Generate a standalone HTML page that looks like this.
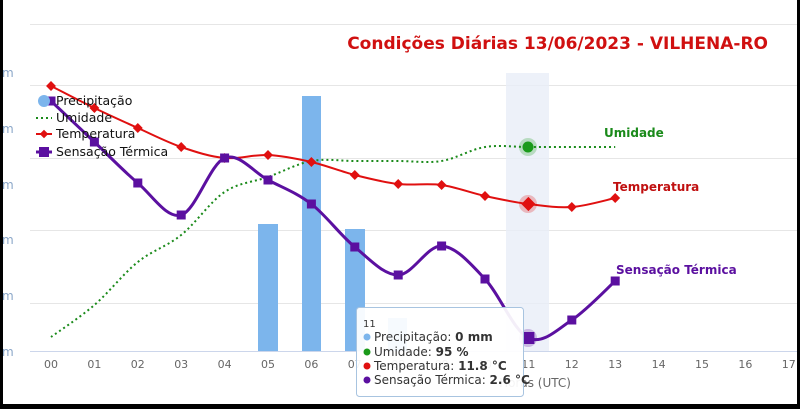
<!DOCTYPE html>
<html><head><meta charset="utf-8"><style>
html,body{margin:0;padding:0;background:#fff}
body{width:800px;height:409px;overflow:hidden;position:relative;font-family:"DejaVu Sans","Liberation Sans",sans-serif}
</style></head><body>
<svg id="s" width="800" height="409" xmlns="http://www.w3.org/2000/svg" style="position:absolute;left:0;top:0">
<rect x="0" y="0" width="800" height="409" fill="#fff"/>
<g stroke="#e6e6e6" stroke-width="1">
<line x1="30" x2="797" y1="24.5" y2="24.5"/>
<line x1="30" x2="797" y1="85.5" y2="85.5"/>
<line x1="30" x2="797" y1="158.5" y2="158.5"/>
<line x1="30" x2="797" y1="230.5" y2="230.5"/>
<line x1="30" x2="797" y1="303.5" y2="303.5"/>
<line x1="30" x2="797" y1="351.5" y2="351.5" stroke="#ccd6eb"/>
</g>
<rect x="506" y="73" width="43" height="278" fill="#e9eef7" opacity="0.8"/>
<g fill="#7cb5ec">
<rect x="258" y="224" width="20" height="127"/>
<rect x="302" y="96" width="19" height="255"/>
<rect x="345" y="229" width="20" height="122"/>
<rect x="388" y="318" width="19" height="33"/>
</g>
<g font-size="12" fill="#8aa6c8">
<text x="2" y="77">m</text><text x="2" y="133">m</text><text x="2" y="189">m</text><text x="2" y="244">m</text><text x="2" y="300">m</text><text x="2" y="356">m</text>
</g>
<g id="xl" font-size="11" fill="#666" text-anchor="middle"></g>
<text x="535" y="387" font-size="12" fill="#666" text-anchor="middle">Horas (UTC)</text>
<path id="hum" fill="none" stroke="#1a8a1a" stroke-width="2" stroke-dasharray="2,3"/>
<path id="tmp" fill="none" stroke="#e01010" stroke-width="2"/>
<path id="sen" fill="none" stroke="#5b10a0" stroke-width="3"/>
<g id="mk"></g>
<circle cx="528" cy="147" r="9" fill="#1a9a1a" opacity="0.25"/>
<circle cx="528" cy="147" r="5.5" fill="#1a9a1a"/>
<circle cx="528" cy="204" r="9" fill="#e01010" opacity="0.25"/>
<circle cx="528" cy="338" r="9" fill="#5b10a0" opacity="0.25"/>
<text x="604" y="137" font-size="12" font-weight="bold" fill="#1a8a1a">Umidade</text>
<text x="613" y="191" font-size="12" font-weight="bold" fill="#c01010">Temperatura</text>
<text x="616" y="274" font-size="12" font-weight="bold" fill="#5b10a0">Sensação Térmica</text>
<text x="768" y="49" font-size="17" font-weight="bold" fill="#d01010" text-anchor="end">Condições Diárias 13/06/2023 - VILHENA-RO</text>
<g font-size="12.5" fill="#111">
<circle cx="44" cy="101" r="6" fill="#7cb5ec"/>
<text x="56" y="105">Precipitação</text>
<line x1="36" x2="52" y1="118" y2="118" stroke="#1a8a1a" stroke-width="2" stroke-dasharray="2,3"/>
<text x="56" y="122">Umidade</text>
<line x1="36" x2="52" y1="134" y2="134" stroke="#e01010" stroke-width="2"/>
<rect x="41" y="131" width="6" height="6" fill="#e01010" transform="rotate(45 44 134)"/>
<text x="56" y="138">Temperatura</text>
<line x1="36" x2="52" y1="152" y2="152" stroke="#5b10a0" stroke-width="3"/>
<rect x="39" y="147" width="10" height="10" fill="#5b10a0"/>
<text x="56" y="156">Sensação Térmica</text>
</g>
<rect x="356.5" y="307.5" width="167" height="89" rx="3" fill="#fff" fill-opacity="0.93" stroke="#a8c4e0"/>
<g font-size="12" fill="#333">
<text x="363" y="327" font-size="10">11</text>
<circle cx="367" cy="337" r="3.5" fill="#7cb5ec"/><text x="374" y="341">Precipitação: <tspan font-weight="bold">0 mm</tspan></text>
<circle cx="367" cy="352" r="3.5" fill="#1a9a1a"/><text x="374" y="356">Umidade: <tspan font-weight="bold">95 %</tspan></text>
<circle cx="367" cy="366" r="3.5" fill="#e01010"/><text x="374" y="370">Temperatura: <tspan font-weight="bold">11.8 °C</tspan></text>
<circle cx="367" cy="380" r="3.5" fill="#5b10a0"/><text x="374" y="384">Sensação Térmica: <tspan font-weight="bold">2.6 °C</tspan></text>
</g>
<rect x="0" y="0" width="3" height="409" fill="#000"/>
<rect x="797" y="0" width="3" height="409" fill="#000"/>
<rect x="0" y="404" width="800" height="5" fill="#000"/>
</svg>
<script>
var X=function(i){return 51+i*43.4};
var xl=document.getElementById('xl'),ns='http://www.w3.org/2000/svg';
for(var i=0;i<=17;i++){var t=document.createElementNS(ns,'text');t.setAttribute('x',X(i));t.setAttribute('y',368);t.textContent=(i<10?'0':'')+i;xl.appendChild(t);}
function path(p){var d='M'+p[0][0]+','+p[0][1];for(var i=0;i<p.length-1;i++){var p0=p[i-1]||p[i],p1=p[i],p2=p[i+1],p3=p[i+2]||p2;var k=6;d+=' C'+(p1[0]+(p2[0]-p0[0])/k)+','+(p1[1]+(p2[1]-p0[1])/k)+' '+(p2[0]-(p3[0]-p1[0])/k)+','+(p2[1]-(p3[1]-p1[1])/k)+' '+p2[0]+','+p2[1];}return d;}
var T=[86,108,128,147,158,155,162,175,184,185,196,204,207,198];
var S=[101,142,183,215,158,180,204,247,275,246,279,338,320,281];
var H=[337,305,262,235,192,177,161,161,161,161,147,147,147,147];
function pts(a){return a.map(function(y,i){return [X(i),y]});}
document.getElementById('tmp').setAttribute('d',path(pts(T)));
document.getElementById('sen').setAttribute('d',path(pts(S)));
document.getElementById('hum').setAttribute('d',path(pts(H)));
var mk=document.getElementById('mk'),h='';
T.forEach(function(y,i){var x=X(i),s=i==11?5:3.5;h+='<rect x="'+(x-s)+'" y="'+(y-s)+'" width="'+2*s+'" height="'+2*s+'" fill="#e01010" transform="rotate(45 '+x+' '+y+')"/>';});
S.forEach(function(y,i){var x=X(i),s=i==11?6:4.5;h+='<rect x="'+(x-s)+'" y="'+(y-s)+'" width="'+2*s+'" height="'+2*s+'" fill="#5b10a0"/>';});
mk.innerHTML=h;
</script>
</body></html>
